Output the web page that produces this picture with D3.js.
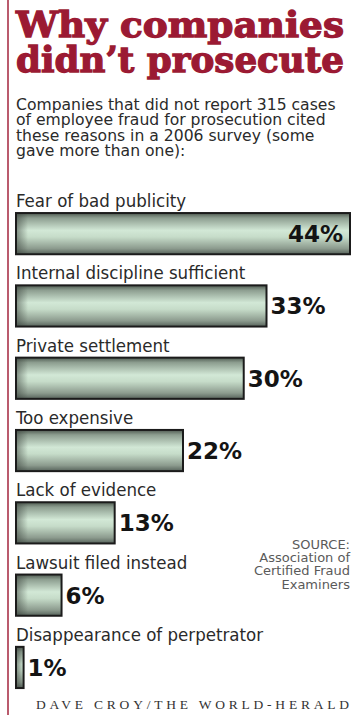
<!DOCTYPE html>
<html>
<head>
<meta charset="utf-8">
<script src="https://cdn.jsdelivr.net/npm/d3@7"></script>
<style>
body { margin:0; background:#fff; }
svg { display:block; }
</style>
</head>
<body>
<div id="chart"></div>
<script>
var reasons = ["Fear of bad publicity", "Internal discipline sufficient", "Private settlement",
  "Too expensive", "Lack of evidence", "Lawsuit filed instead", "Disappearance of perpetrator"];
var percents = [44, 33, 30, 22, 13, 6, 1];
var titleLines = ["Why companies", "didn\u2019t prosecute"];
var introLines = ["Companies that did not report 315 cases", "of employee fraud for prosecution cited",
  "these reasons in a 2006 survey (some", "gave more than one):"];
var sourceLines = ["SOURCE:", "Association of", "Certified Fraud", "Examiners"];
var credit = "DAVE CROY/THE WORLD-HERALD";

var W = 357, H = 715;
var svg = d3.select("#chart").append("svg").attr("width", W).attr("height", H);

var defs = svg.append("defs");
var grad = defs.append("linearGradient").attr("id", "barfill").attr("x1", 0).attr("y1", 0).attr("x2", 0).attr("y2", 1);
[[0, "#4f5a51"], [0.12, "#8d9e90"], [0.42, "#d2e8d6"], [0.58, "#c6dcc9"], [0.86, "#8c9b8e"], [1, "#56625a"]].forEach(function(s){
  grad.append("stop").attr("offset", s[0]).attr("stop-color", s[1]);
});
var edge = defs.append("linearGradient").attr("id", "edgefill").attr("x1", 0).attr("y1", 0).attr("x2", 1).attr("y2", 0);
edge.append("stop").attr("offset", 0).attr("stop-color", "#3a423c").attr("stop-opacity", 0.55);
edge.append("stop").attr("offset", 1).attr("stop-color", "#3a423c").attr("stop-opacity", 0);

// red rule on the left
svg.append("line").attr("x1", 8).attr("x2", 8).attr("y1", 0).attr("y2", H)
  .attr("stroke", "#a3243d").attr("stroke-width", 1.5);

// title
svg.selectAll(".title").data(titleLines).enter().append("text")
  .attr("class", "title")
  .attr("x", 16).attr("y", function(d, i){ return 37 + i * 35; })
  .attr("textLength", 328).attr("lengthAdjust", "spacingAndGlyphs")
  .style("font-family", "'DejaVu Serif', serif").style("font-weight", "bold").style("font-size", "36px")
  .style("fill", "#9b1a33").style("stroke", "#9b1a33").style("stroke-width", 1.3)
  .text(function(d){ return d; });

// intro, a little stretched like the condensed face in the paper
var intro = svg.append("g").attr("transform", "translate(16,0) scale(1.12,1)");
intro.selectAll(".intro").data(introLines).enter().append("text")
  .attr("class", "intro")
  .attr("x", 0).attr("y", function(d, i){ return 110 + i * 15.5; })
  .style("font-family", "'DejaVu Sans Condensed', 'DejaVu Sans', sans-serif").style("font-size", "15.5px")
  .style("fill", "#2a2a2a")
  .text(function(d){ return d; });

var x = d3.scaleLinear().domain([0, 44]).range([16, 350]);
var y = d3.scaleBand().domain(reasons).range([197.5, 703.6]).paddingInner(0.43).paddingOuter(0.215);

var rows = svg.selectAll(".row").data(reasons).enter().append("g").attr("class", "row");

rows.append("text")
  .attr("x", 16).attr("y", function(d){ return y(d) - 6; })
  .style("font-family", "'DejaVu Sans Condensed', 'DejaVu Sans', sans-serif").style("font-size", "18.5px")
  .style("fill", "#2a2a2a")
  .text(function(d){ return d; });

rows.append("rect")
  .attr("x", x(0)).attr("y", function(d){ return y(d); })
  .attr("width", function(d, i){ return x(percents[i]) - x(0); })
  .attr("height", y.bandwidth())
  .attr("fill", "url(#barfill)");
rows.append("rect")
  .attr("x", x(0)).attr("y", function(d){ return y(d); })
  .attr("width", function(d, i){ return Math.min(12, x(percents[i]) - x(0)); })
  .attr("height", y.bandwidth())
  .attr("fill", "url(#edgefill)");
rows.append("rect")
  .attr("x", x(0)).attr("y", function(d){ return y(d); })
  .attr("width", function(d, i){ return x(percents[i]) - x(0); })
  .attr("height", y.bandwidth())
  .attr("fill", "none").attr("stroke", "#1b1b1b").attr("stroke-width", 2);

rows.append("text")
  .attr("x", function(d, i){ return i == 0 ? x(percents[i]) - 7 : x(percents[i]) + 4; })
  .attr("y", function(d){ return y(d) + 29; })
  .attr("text-anchor", function(d, i){ return i == 0 ? "end" : "start"; })
  .style("font-family", "'DejaVu Sans', sans-serif").style("font-weight", "bold").style("font-size", "23px")
  .style("fill", "#141414")
  .text(function(d, i){ return percents[i] + "%"; });

// source note
svg.selectAll(".src").data(sourceLines).enter().append("text")
  .attr("class", "src")
  .attr("x", 350).attr("y", function(d, i){ return 549 + i * 13.2; })
  .attr("text-anchor", "end")
  .style("font-family", "'DejaVu Sans', sans-serif").style("font-size", "13px")
  .style("fill", "#5a5a5a")
  .text(function(d){ return d; });

// credit
svg.append("text")
  .attr("x", 36).attr("y", 709)
  .attr("textLength", 313).attr("lengthAdjust", "spacing")
  .style("font-family", "'Liberation Serif', 'DejaVu Serif', serif").style("font-size", "13.5px")
  .style("fill", "#333")
  .text(credit);
</script>
</body>
</html>
